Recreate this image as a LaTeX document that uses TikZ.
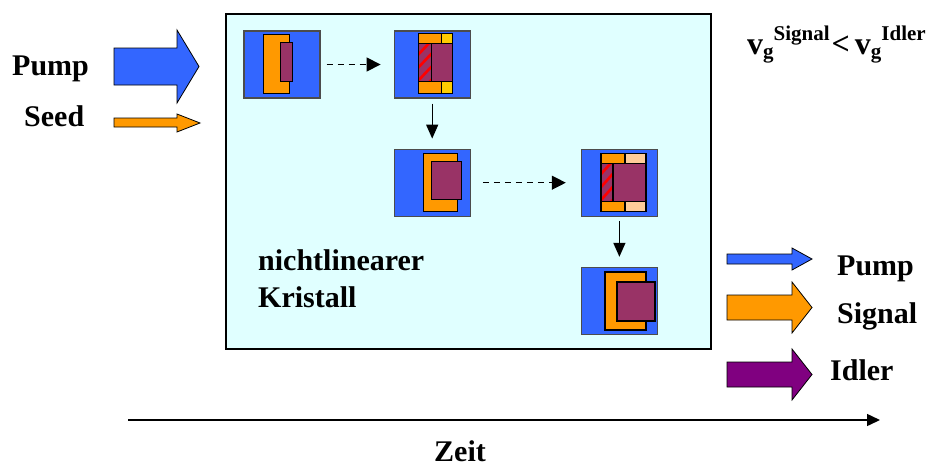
\documentclass[tikz,border=0pt]{standalone}
\usepackage{fontspec}
\setmainfont{Liberation Serif}
\usetikzlibrary{positioning,arrows.meta}

\definecolor{pumpblue}{RGB}{51,102,255}
\definecolor{signalorange}{RGB}{255,153,0}
\definecolor{idlerpurple}{RGB}{153,51,102}
\definecolor{outpurple}{RGB}{128,0,128}
\definecolor{crystalcyan}{RGB}{224,255,255}
\definecolor{gelb}{RGB}{255,204,0}
\definecolor{peach}{RGB}{255,204,153}

\begin{document}
\begin{tikzpicture}[x=1pt, y=-1pt,
txt/.style={font=\fontsize{30}{30}\selectfont\bfseries, inner sep=0pt},
cell/.style={rectangle, draw=black!70, line width=1.2pt, fill=pumpblue, inner sep=0pt, minimum width=76pt, minimum height=67pt},
part/.style={draw=black, line width=1.6pt},
bigarrow/.style={draw=black, line width=0.8pt, line join=miter},
stripe/.style={red, line width=2.6pt},
dashedflow/.style={line width=1.2pt, dash pattern=on 6pt off 5pt, -{Triangle[length=14pt,width=14pt]}},
downflow/.style={line width=1.4pt, -{Triangle[length=14pt,width=12pt]}},
]
\useasboundingbox (0,0) rectangle (937,466);

%Nodes
\node[draw, line width=1.2pt, fill=crystalcyan, minimum width=485pt, minimum height=335pt, inner sep=0pt] (kristall) at (468.5,181.5) {};
\node[cell]          (c1)        at (282,64.5)            {};
\node[cell]          (c2)        [right=73pt of c1]      {};
\node[cell]          (c3)        [below=50pt of c2]      {};
\node[cell]          (c4)        [right=110pt of c3]     {};
\node[cell]          (c5)        [below=50pt of c4]      {};

%Parts inside the cells
\draw[part, fill=signalorange] ([shift={(20,4)}]c1.north west) rectangle +(26,59);
\draw[part, fill=idlerpurple] ([shift={(37,12)}]c1.north west) rectangle +(12,39);

\draw[part, fill=signalorange] ([shift={(25,3)}]c2.north west) rectangle +(23,10);
\draw[part, fill=gelb] ([shift={(48,3)}]c2.north west) rectangle +(11,10);
\draw[part, fill=idlerpurple] ([shift={(25,13)}]c2.north west) rectangle +(13,38);
\begin{scope}
\clip ([shift={(25,13)}]c2.north west) rectangle +(13,38);
\foreach \k in {0,13,...,65}
  \draw[stripe] ([shift={(23,13+\k)}]c2.north west) -- ++(17,-18);
\end{scope}
\draw[part] ([shift={(25,13)}]c2.north west) rectangle +(13,38);
\draw[part, fill=idlerpurple] ([shift={(38,13)}]c2.north west) rectangle +(21,38);
\draw[part, fill=signalorange] ([shift={(25,51)}]c2.north west) rectangle +(23,12);
\draw[part, fill=gelb] ([shift={(48,51)}]c2.north west) rectangle +(11,12);

\draw[part, fill=signalorange] ([shift={(30,5)}]c3.north west) rectangle +(34,58);
\draw[part, fill=idlerpurple] ([shift={(38,13)}]c3.north west) rectangle +(30,38);

\draw[part, fill=signalorange] ([shift={(20,5)}]c4.north west) rectangle +(24,10);
\draw[part, fill=peach] ([shift={(44,5)}]c4.north west) rectangle +(21,10);
\draw[part, fill=idlerpurple] ([shift={(20,15)}]c4.north west) rectangle +(12,38);
\begin{scope}
\clip ([shift={(20,15)}]c4.north west) rectangle +(12,38);
\foreach \k in {0,13,...,65}
  \draw[stripe] ([shift={(18,15+\k)}]c4.north west) -- ++(16,-18);
\end{scope}
\draw[part] ([shift={(20,15)}]c4.north west) rectangle +(12,38);
\draw[part, fill=idlerpurple] ([shift={(32,15)}]c4.north west) rectangle +(33,38);
\draw[part, fill=signalorange] ([shift={(20,53)}]c4.north west) rectangle +(24,10);
\draw[part, fill=peach] ([shift={(44,53)}]c4.north west) rectangle +(21,10);

\draw[part, fill=signalorange] ([shift={(24,5)}]c5.north west) rectangle +(41,58);
\draw[part, fill=idlerpurple] ([shift={(36,15)}]c5.north west) rectangle +(38,39);

%Texts
\node[txt, anchor=base west] (pumpin)  at (12,75)   {Pump};
\node[txt, anchor=base west] (seedin)  at (24,126)  {Seed};
\node[txt, anchor=base west] (nl)      at (258,270) {nichtlinearer};
\node[txt, anchor=base west] (kr)      at (258,307) {Kristall};
\node[txt, anchor=base west] (pumpout) at (837,275) {Pump};
\node[txt, anchor=base west] (sigout)  at (837,323) {Signal};
\node[txt, anchor=base west] (idlout)  at (830,380) {Idler};
\node[txt, anchor=base]      (zeit)    at (460,461) {Zeit};
\node[inner sep=0pt, anchor=base west, font=\fontsize{32}{32}\selectfont\bfseries] (vg) at (747,54)
  {v\raisebox{-4pt}{\fontsize{21}{21}\selectfont g}\raisebox{14pt}{\fontsize{21}{21}\selectfont Signal}\hspace{2pt}<\hspace{5pt}v\raisebox{-4pt}{\fontsize{21}{21}\selectfont g}\raisebox{14pt}{\fontsize{21}{21}\selectfont Idler}};

%Block arrows
\draw[bigarrow, fill=pumpblue] (114,48) -- (177,48) -- (177,30) -- (199,66.5) -- (177,103) -- (177,85) -- (114,85) -- cycle;
\draw[bigarrow, fill=signalorange] (114,118) -- (177,118) -- (177,114) -- (200,123) -- (177,132) -- (177,127) -- (114,127) -- cycle;
\draw[bigarrow, fill=pumpblue] (727,254) -- (792,254) -- (792,248) -- (812,259) -- (792,270) -- (792,264) -- (727,264) -- cycle;
\draw[bigarrow, fill=signalorange] (727,295) -- (792,295) -- (792,282) -- (812,307.5) -- (792,333) -- (792,320) -- (727,320) -- cycle;
\draw[bigarrow, fill=outpurple] (727,362) -- (792,362) -- (792,349) -- (812,374.5) -- (792,400) -- (792,387) -- (727,387) -- cycle;

%Lines
\draw[dashedflow, shorten <=6pt, shorten >=13pt] (c1.east) -- (c2.west);
\draw[dashedflow, shorten <=12pt, shorten >=15pt] (c3.east) -- (c4.west);
\draw[downflow, shorten <=5pt, shorten >=10pt] (c2.south) -- (c3.north);
\draw[downflow, shorten <=4pt, shorten >=10pt] (c4.south) -- (c5.north);
\coordinate (zeitstart) at (128,420);
\coordinate (zeitende) at (880,420);
\draw[line width=1.5pt, -{Triangle[length=13pt,width=12pt]}] (zeitstart) -- (zeitende);

\end{tikzpicture}
\end{document}
